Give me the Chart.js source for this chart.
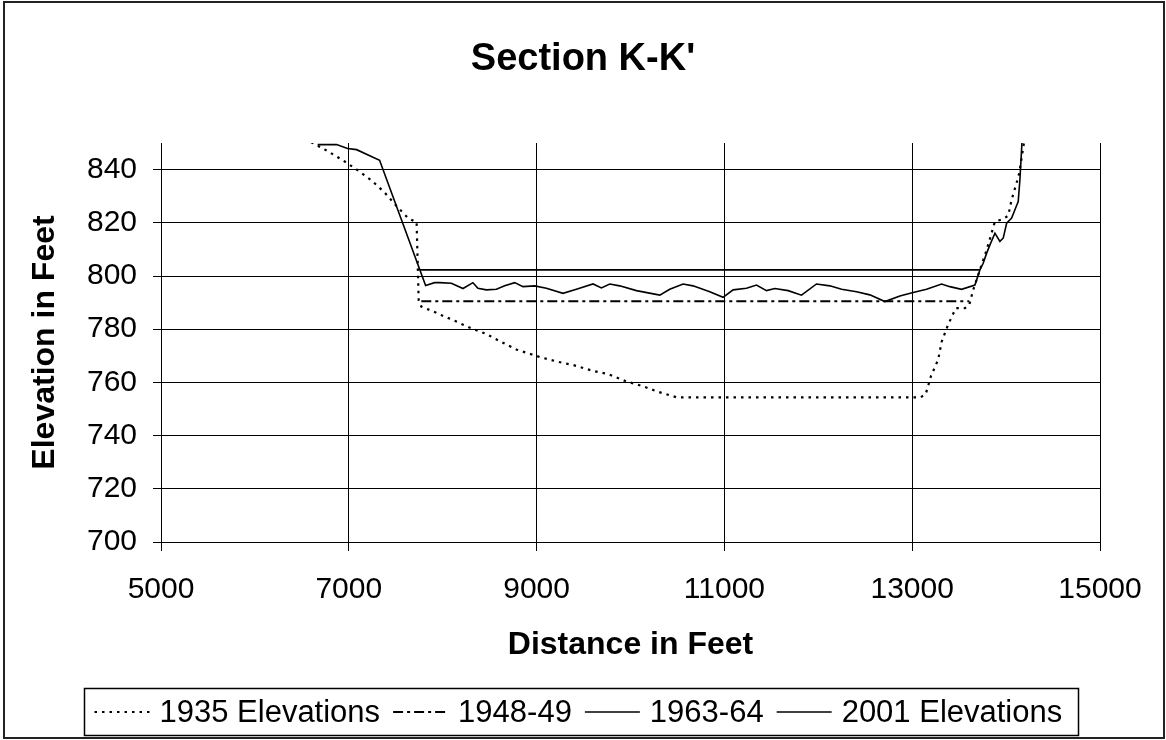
<!DOCTYPE html>
<html><head><meta charset="utf-8">
<script src="https://cdn.jsdelivr.net/npm/chart.js@4/dist/chart.umd.min.js"></script>
<style>html,body{margin:0;padding:0;background:#fff;}canvas{display:block;}</style>
</head><body>
<canvas id="c" width="1166" height="740"></canvas>
<script>
const chartTitle = "Section K-K'";
const xTitle = 'Distance in Feet';
const yTitle = 'Elevation in Feet';
const xTicks = [5000, 7000, 9000, 11000, 13000, 15000];
const yTicks = [700, 720, 740, 760, 780, 800, 820, 840];
const seriesNames = ['1935 Elevations', '1948-49', '1963-64', '2001 Elevations'];

const x1935 = [6600, 6777, 6937, 7097, 7240, 7381, 7506, 7630, 7701, 7722, 7744, 7772, 7932, 8021, 8101, 8273, 8465, 8618, 8790, 8950, 9038, 9210, 9402, 9593, 9765, 9945, 10128, 10300, 10491, 13090, 13144, 13200, 13276, 13314, 13382, 13465, 13561, 13607, 13650, 13721, 13793, 13881, 13970, 14023, 14059, 14112, 14140, 14190];
const y1935 = [850.3, 846.9, 843.5, 839.7, 836.0, 831.4, 826.4, 821.8, 820.5, 820.4, 791.0, 788.5, 786.2, 784.7, 783.6, 780.8, 778.2, 775.3, 772.3, 770.5, 769.5, 767.9, 766.4, 764.4, 763.1, 760.5, 758.6, 756.4, 754.4, 754.4, 755.6, 762.4, 768.5, 775.3, 781.7, 787.9, 787.9, 789.1, 794.8, 802.3, 809.8, 820.5, 821.4, 822.7, 828.7, 835.0, 838.7, 850];

const x1948 = [7772, 13607];
const y1948 = [790.5, 790.5];

const x1963 = [6668, 6870, 6987, 7083, 7328, 7818, 7914, 7967, 8092, 8216, 8322, 8375, 8465, 8572, 8660, 8767, 8855, 8980, 9104, 9281, 9424, 9601, 9690, 9779, 9885, 10063, 10312, 10418, 10560, 10666, 10844, 10986, 11093, 11235, 11342, 11448, 11537, 11679, 11821, 11981, 12123, 12248, 12407, 12549, 12709, 12869, 13010, 13153, 13313, 13401, 13526, 13668, 13721, 13756, 13793, 13828, 13881, 13934, 13970, 14006, 14059, 14094, 14129, 14147, 14169];
const y1963 = [849.4, 849.4, 847.9, 847.5, 843.5, 796.4, 797.5, 797.5, 797.3, 795.3, 797.5, 795.4, 794.8, 795.0, 796.3, 797.5, 796.0, 796.3, 795.4, 793.5, 795.0, 797.0, 795.5, 797.0, 796.3, 794.5, 792.8, 795.0, 797.0, 796.3, 794.1, 792.0, 794.8, 795.4, 796.6, 794.5, 795.3, 794.5, 792.8, 797.0, 796.3, 795.0, 794.1, 792.9, 790.4, 792.5, 793.8, 795.0, 797.0, 796.0, 795.0, 796.6, 802.3, 804.8, 808.6, 811.7, 816.1, 813.0, 814.3, 819.9, 821.8, 824.9, 828.0, 836.2, 850.2];

const x2001 = [7756, 13721];
const y2001 = [802.3, 802.3];

const FONT = '"Liberation Sans", Arial, Helvetica, sans-serif';
const pts = (xs, ys) => xs.map((x, i) => ({x: x, y: ys[i]}));

const decor = {
  id: 'decor',
  afterDraw(chart) {
    const ctx = chart.ctx;
    ctx.save();
    ctx.setLineDash([]);
    ctx.strokeStyle = '#222';
    ctx.lineWidth = 2;
    ctx.strokeRect(4, 2, 1160, 736);
    ctx.fillStyle = '#000';
    ctx.font = 'bold 38px ' + FONT;
    ctx.textAlign = 'center';
    ctx.textBaseline = 'middle';
    ctx.fillText(chartTitle, 583, 60);
    // legend
    ctx.font = '31px ' + FONT;
    const sampleW = 55, gapST = 10, gapTS = 13, padL = 10, padR = 16;
    const ds = chart.data.datasets;
    const widths = ds.map(d => ctx.measureText(d.label).width);
    let total = padL + padR + (ds.length - 1) * gapTS;
    widths.forEach(w => { total += sampleW + gapST + w; });
    const left = Math.round(581 - total / 2) + 0.5, top = 688.5, h = 47;
    ctx.strokeStyle = '#000';
    ctx.lineWidth = 1.5;
    ctx.strokeRect(left, top, Math.round(total), h);
    let x = left + padL;
    const cy = top + h / 2;
    ds.forEach((d, i) => {
      ctx.beginPath();
      ctx.setLineDash(d.borderDash || []);
      ctx.lineWidth = d.borderWidth;
      ctx.strokeStyle = d.borderColor;
      ctx.moveTo(x, cy);
      ctx.lineTo(x + sampleW, cy);
      ctx.stroke();
      ctx.setLineDash([]);
      x += sampleW + gapST;
      ctx.textAlign = 'left';
      ctx.fillStyle = '#000';
      ctx.fillText(d.label, x, cy + 1);
      x += widths[i] + gapTS;
    });
    ctx.restore();
  }
};

new Chart(document.getElementById('c'), {
  type: 'scatter',
  data: {
    datasets: [
      {label: seriesNames[0], data: pts(x1935, y1935), borderColor: '#000', borderWidth: 2.2, borderDash: [2.5, 5]},
      {label: seriesNames[1], data: pts(x1948, y1948), borderColor: '#000', borderWidth: 2.2, borderDash: [10, 4, 3, 4]},
      {label: seriesNames[2], data: pts(x1963, y1963), borderColor: '#000', borderWidth: 1.6},
      {label: seriesNames[3], data: pts(x2001, y2001), borderColor: '#000', borderWidth: 1.6}
    ].map(d => Object.assign(d, {showLine: true, pointRadius: 0, pointHoverRadius: 0, tension: 0, fill: false, backgroundColor: '#000'}))
  },
  options: {
    responsive: false,
    devicePixelRatio: 1,
    animation: false,
    events: [],
    layout: {padding: {top: 143, right: 66, bottom: 76, left: 0}},
    plugins: {legend: {display: false}, title: {display: false}, tooltip: {enabled: false}},
    scales: {
      x: {
        type: 'linear', min: 5000, max: 15000,
        afterBuildTicks: a => { a.ticks = xTicks.map(v => ({value: v})); },
        afterFit: s => { s.height = 122; },
        ticks: {font: {family: FONT, size: 30}, color: '#000', padding: 21, maxRotation: 0, autoSkip: false, callback: v => String(v)},
        grid: {color: '#000', lineWidth: 1, tickLength: 9, drawTicks: true},
        border: {display: true, color: '#000', width: 1},
        title: {display: true, text: xTitle, color: '#000', font: {family: FONT, size: 32, weight: 'bold'}, padding: {top: 0, bottom: 0}}
      },
      y: {
        type: 'linear', min: 700, max: 850,
        afterBuildTicks: a => { a.ticks = yTicks.map(v => ({value: v})); },
        afterFit: s => { s.width = 161; },
        ticks: {font: {family: FONT, size: 30}, color: '#000', padding: 16, autoSkip: false, callback: v => String(v)},
        grid: {color: '#000', lineWidth: 1, tickLength: 8, drawTicks: true},
        border: {display: true, color: '#000', width: 1},
        title: {display: true, text: yTitle, color: '#000', font: {family: FONT, size: 32, weight: 'bold'}, padding: {top: 26, bottom: 0}}
      }
    }
  },
  plugins: [decor]
});
</script>
</body></html>
